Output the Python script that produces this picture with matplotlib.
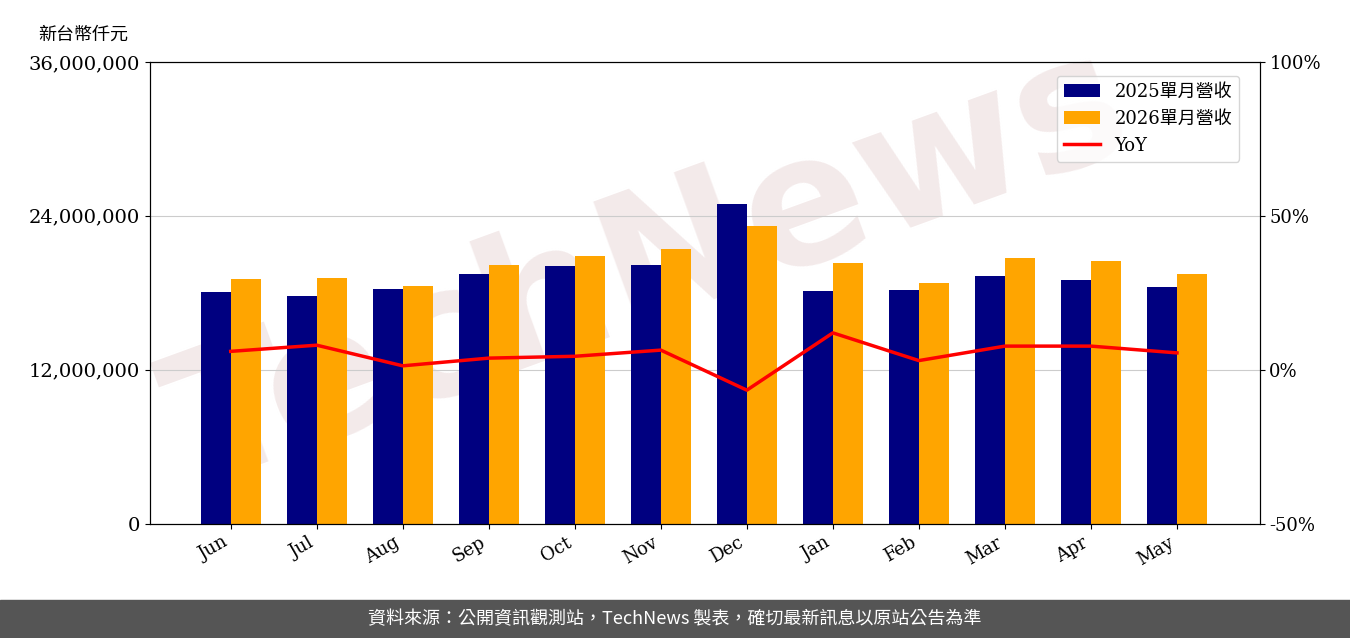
import matplotlib.pyplot as plt
import numpy as np
from matplotlib.patches import Rectangle

plt.rcParams['font.family'] = ['DejaVu Serif', 'Noto Sans CJK TC']

months = ['Jun', 'Jul', 'Aug', 'Sep', 'Oct', 'Nov', 'Dec', 'Jan', 'Feb', 'Mar', 'Apr', 'May']
rev_2025 = [18.08, 17.77, 18.31, 19.48, 20.10, 20.18, 24.94, 18.16, 18.23, 19.32, 19.01, 18.47]
rev_2026 = [19.09, 19.17, 18.55, 20.18, 20.88, 21.43, 23.22, 20.34, 18.78, 20.73, 20.49, 19.48]
yoy = [6.0, 8.0, 1.3, 3.8, 4.4, 6.4, -6.6, 12.0, 3.0, 7.7, 7.7, 5.5]

fig = plt.figure(figsize=(13.5, 6.38), dpi=100)
ax = fig.add_axes([0.111, 0.179, 0.822, 0.724])
ax.text(0.45, 0.55, 'TechNews', transform=ax.transAxes, fontsize=130, color='#ecdcdc',
        alpha=0.6, rotation=20, ha='center', va='center', family='DejaVu Sans',
        fontweight='bold', zorder=1, clip_on=False)
x = np.arange(len(months))
w = 0.35
b1 = ax.bar(x - w/2, np.array(rev_2025) * 1e6, w, color='#000080', label='2025單月營收', zorder=2)
b2 = ax.bar(x + w/2, np.array(rev_2026) * 1e6, w, color='#FFA500', label='2026單月營收', zorder=2)
ax.set_ylim(0, 36e6)
ax.set_yticks([0, 12e6, 24e6, 36e6])
ax.set_yticklabels(['0', '12,000,000', '24,000,000', '36,000,000'], fontsize=14)
ax.grid(axis='y', color='#cccccc', zorder=0)
ax.set_xlim(-0.94, 11.96)
ax.set_xticks(x)
ax.set_xticklabels(months, rotation=30, ha='right', fontsize=13)
ax.text(-0.06, 1.04, '新台幣仟元', transform=ax.transAxes, fontsize=13,
        family=['Noto Sans CJK TC'], ha='center', va='bottom')

ax2 = ax.twinx()
l, = ax2.plot(x, yoy, color='red', lw=2.5, label='YoY')
ax2.set_ylim(-50, 100)
ax2.set_yticks([-50, 0, 50, 100])
ax2.set_yticklabels(['-50%', '0%', '50%', '100%'], fontsize=13)

ax2.legend([b1, b2, l], ['2025單月營收', '2026單月營收', 'YoY'], loc='upper right',
           bbox_to_anchor=(0.99, 0.99),
           prop={'family': ['DejaVu Serif', 'Noto Sans CJK TC'], 'size': 13})

fig.patches.append(Rectangle((0, 0), 1, 0.06, transform=fig.transFigure, color='#555555', zorder=0))
fig.text(0.5, 0.03, '資料來源：公開資訊觀測站，TechNews 製表，確切最新訊息以原站公告為準',
         color='white', fontsize=13, ha='center', va='center', family=['Noto Sans CJK TC'])

fig.savefig('out.png', dpi=100)
